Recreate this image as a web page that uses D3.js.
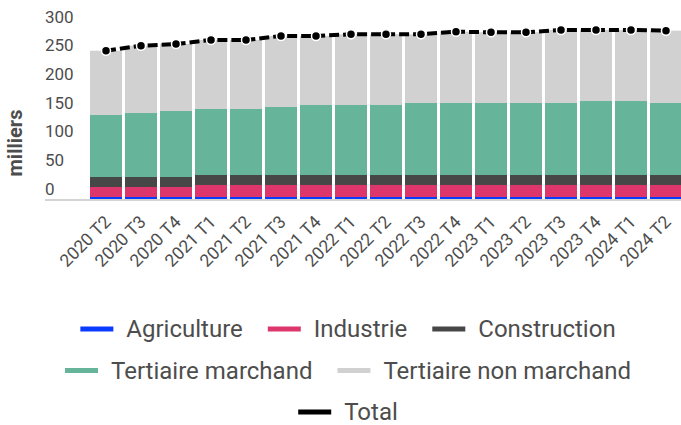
<!DOCTYPE html>
<html>
<head>
<meta charset="utf-8">
<script src="https://cdn.jsdelivr.net/npm/d3@7"></script>
<style>
    body { margin: 0; background: #fff; }
    #chart { width: 681px; height: 425px; }
    text { font-family: Roboto, "Noto Sans", sans-serif; fill: #4d4d4d; }
</style>
</head>
<body>
<div id="chart"></div>
<script>
// Data (milliers)
const quarters = ["2020 T2", "2020 T3", "2020 T4", "2021 T1", "2021 T2", "2021 T3", "2021 T4",
    "2022 T1", "2022 T2", "2022 T3", "2022 T4", "2023 T1", "2023 T2", "2023 T3", "2023 T4",
    "2024 T1", "2024 T2"];
const agriculture = [3.5, 3.5, 3.5, 3.5, 3.5, 3.5, 3.5, 3.5, 3.5, 3.5, 3.5, 3.5, 3.5, 3.5, 3.5, 3.5, 3.5];
const industrie = [17.4, 17.4, 17.4, 20.9, 20.9, 20.9, 20.9, 20.9, 20.9, 20.9, 20.9, 20.9, 20.9, 20.9, 20.9, 20.9, 20.9];
const construction = [17.4, 17.4, 17.4, 17.4, 17.4, 17.4, 17.4, 17.4, 17.4, 17.4, 17.4, 17.4, 17.4, 17.4, 17.4, 17.4, 17.4];
const tertiaireMarchand = [108.0, 111.4, 114.9, 114.9, 114.9, 118.4, 121.9, 121.9, 121.9, 125.4, 125.4, 125.4, 125.4, 125.4, 128.8, 128.8, 125.4];
const tertiaireNonMarchand = [111.9, 117.2, 116.7, 120.2, 120.2, 123.6, 120.1, 123.1, 123.1, 119.6, 124.1, 123.1, 123.1, 127.1, 123.7, 123.7, 125.9];
const total = [258.2, 266.9, 269.9, 276.9, 276.9, 283.8, 283.8, 286.8, 286.8, 286.8, 291.3, 290.3, 290.3, 294.3, 294.3, 294.3, 293.1];
const yTicks = [0, 50, 100, 150, 200, 250, 300];

const seriesNames = ["Agriculture", "Industrie", "Construction", "Tertiaire marchand", "Tertiaire non marchand"];
const seriesValues = [agriculture, industrie, construction, tertiaireMarchand, tertiaireNonMarchand];
const colors = ["#0a3cff", "#dc366c", "#474747", "#66b59a", "#d1d1d1"];

const width = 681, height = 425;

const svg = d3.select("#chart").append("svg")
    .attr("width", width)
    .attr("height", height);

// table for d3.stack
let rows = quarters.map((q, i) => {
    let r = {quarter: q};
    seriesNames.forEach((s, j) => r[s] = seriesValues[j][i]);
    return r;
});
let stacked = d3.stack().keys(seriesNames)(rows);

// scales
let x = d3.scaleBand()
    .domain(quarters)
    .range([88.5, 683.5])
    .paddingInner(3 / 35)
    .paddingOuter(1.5 / 35);
let y = d3.scaleLinear()
    .domain([0, 300])
    .range([199, 26.7]);

// baseline
svg.append("line")
    .attr("x1", 45).attr("x2", width)
    .attr("y1", 200).attr("y2", 200)
    .attr("stroke", "#d3d3d3")
    .attr("stroke-width", 2);

// bars
svg.selectAll("g.layer")
    .data(stacked)
    .enter()
    .append("g")
    .attr("class", "layer")
    .attr("fill", (d, i) => colors[i])
    .selectAll("rect")
    .data(d => d)
    .enter()
    .append("rect")
    .attr("x", d => x(d.data.quarter))
    .attr("y", d => y(d[1]))
    .attr("width", x.bandwidth())
    .attr("height", d => y(d[0]) - y(d[1]));

// y axis (labels sit just above their value)
let yAxis = svg.append("g")
    .attr("transform", "translate(45,0)")
    .call(d3.axisRight(y).tickValues(yTicks).tickSize(0).tickPadding(0));
yAxis.select(".domain").remove();
yAxis.selectAll("text")
    .attr("x", 0)
    .attr("dy", -4.7)
    .attr("text-anchor", "start")
    .style("font-size", "17px")
    .style("fill", "#4d4d4d");

// y title
svg.append("text")
    .attr("transform", "translate(22,143) rotate(-90)")
    .attr("text-anchor", "middle")
    .style("font-size", "20px")
    .style("font-weight", "bold")
    .text("milliers");

// x axis
let xAxis = svg.append("g")
    .attr("transform", "translate(0,199)")
    .call(d3.axisBottom(x).tickSize(0));
xAxis.select(".domain").remove();
xAxis.selectAll("text")
    .attr("x", 0).attr("y", 0).attr("dy", 0)
    .attr("transform", "translate(6,24) rotate(-45)")
    .attr("text-anchor", "end")
    .style("font-size", "17.5px")
    .style("fill", "#4d4d4d");

// total line
let line = d3.line()
    .x((d, i) => x(quarters[i]) + x.bandwidth() / 2)
    .y(d => y(d));
svg.append("path")
    .datum(total)
    .attr("d", line)
    .attr("fill", "none")
    .attr("stroke", "#000")
    .attr("stroke-width", 4)
    .attr("stroke-dasharray", "10,4");
svg.selectAll("circle.total")
    .data(total)
    .enter()
    .append("circle")
    .attr("class", "total")
    .attr("cx", (d, i) => x(quarters[i]) + x.bandwidth() / 2)
    .attr("cy", d => y(d))
    .attr("r", 4.5)
    .attr("fill", "#000")
    .attr("stroke", "#fff")
    .attr("stroke-width", 1.5);

// legend, rows centred
let legendRows = [
    [0, 1, 2],
    [3, 4],
    [5]
];
let legendNames = seriesNames.concat(["Total"]);
let legendColors = colors.concat(["#000"]);
let legendCenter = 348;

legendRows.forEach((row, r) => {
    let g = svg.append("g");
    let cx = 0;
    row.forEach((k, j) => {
        let item = g.append("g").attr("transform", `translate(${cx},0)`);
        item.append("line")
            .attr("x1", 0).attr("x2", 33)
            .attr("y1", -8).attr("y2", -8)
            .attr("stroke", legendColors[k])
            .attr("stroke-width", 5);
        let t = item.append("text")
            .attr("x", 46)
            .style("font-size", "24px")
            .text(legendNames[k]);
        cx += 46 + t.node().getComputedTextLength() + 25;
    });
    let w = cx - 25;
    g.attr("transform", `translate(${legendCenter - w / 2},${337 + r * 41.5})`);
});
</script>
</body>
</html>
